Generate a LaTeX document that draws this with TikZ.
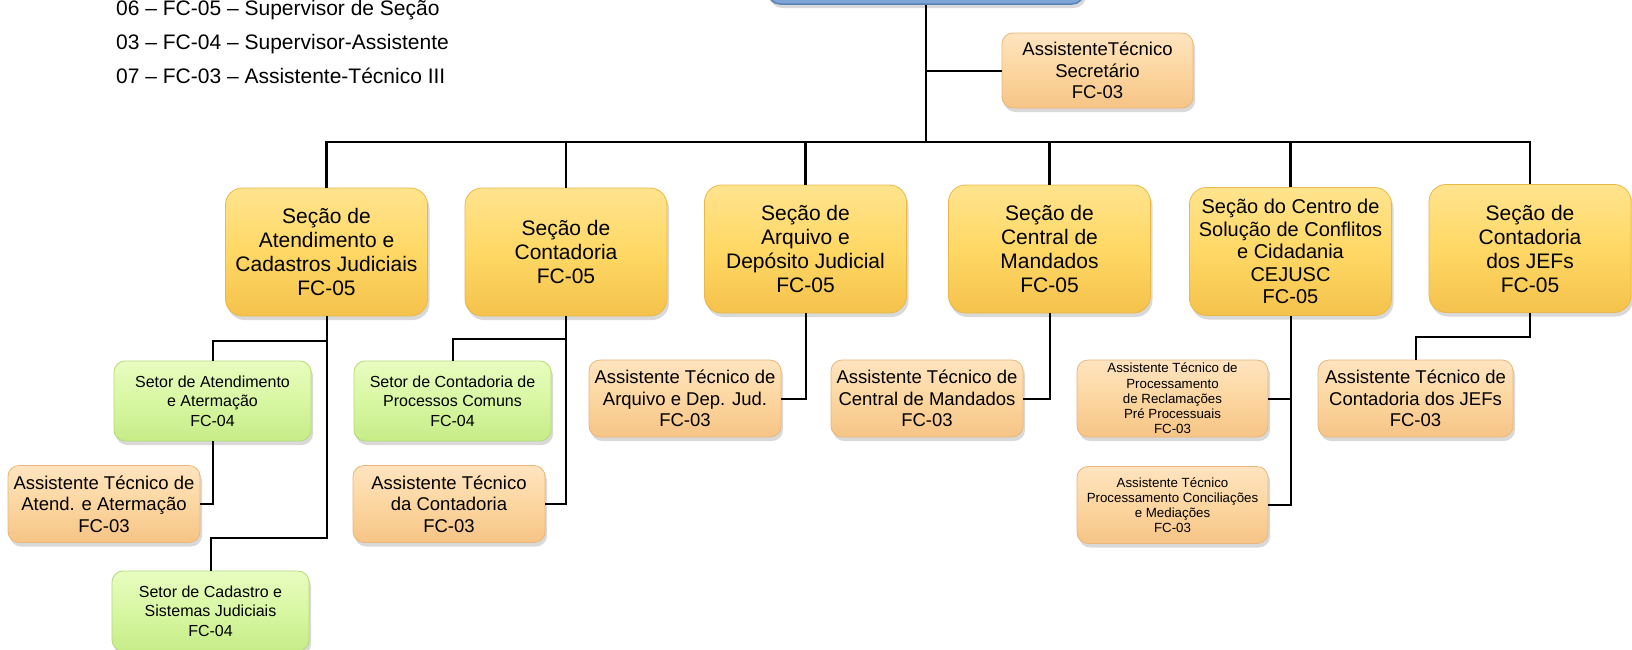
\documentclass[tikz,border=0pt]{standalone}
\usepackage{fontspec}
\setmainfont{Liberation Sans}
\usepackage{xcolor}
\usepackage{tikz}
\usetikzlibrary{shapes, shadows}
\definecolor{amarelo}{HTML}{FFD865}
\definecolor{amareloClaro}{HTML}{FFE48E}
\definecolor{amareloEscuro}{HTML}{F4C24C}
\definecolor{amareloBorda}{HTML}{E8B84A}
\definecolor{verde}{HTML}{D8F7A2}
\definecolor{verdeClaro}{HTML}{E8FCC0}
\definecolor{verdeEscuro}{HTML}{C6EC88}
\definecolor{verdeBorda}{HTML}{B5DA7A}
\definecolor{pessego}{HTML}{FCD6A0}
\definecolor{pessegoClaro}{HTML}{FFE4C0}
\definecolor{pessegoEscuro}{HTML}{F6C486}
\definecolor{pessegoBorda}{HTML}{E8B67A}
\definecolor{azul}{HTML}{7FA4D8}
\definecolor{azulBorda}{HTML}{5A80B8}
\tikzstyle{caixa} = [rectangle, rounded corners=12pt, align=center, inner sep=0pt, line width=0.8pt, drop shadow={shadow xshift=2pt, shadow yshift=-4pt, opacity=0.3}]
\tikzstyle{raiz} = [caixa, fill=azul, draw=azulBorda, line width=1.5pt, minimum width=316pt, minimum height=88pt]
\tikzstyle{secao} = [caixa, rounded corners=17pt, top color=amareloClaro, bottom color=amareloEscuro, middle color=amarelo, draw=amareloBorda, minimum width=202pt, minimum height=128pt, font=\fontsize{21}{24}\selectfont]
\tikzstyle{setor} = [caixa, rounded corners=11pt, top color=verdeClaro, bottom color=verdeEscuro, middle color=verde, draw=verdeBorda, minimum width=197pt, minimum height=80pt, font=\fontsize{16}{19.5}\selectfont]
\tikzstyle{assistente} = [caixa, rounded corners=11pt, top color=pessegoClaro, bottom color=pessegoEscuro, middle color=pessego, draw=pessegoBorda, minimum width=192pt, minimum height=77pt, font=\fontsize{18.5}{21.5}\selectfont]
\tikzstyle{miudo} = [minimum width=191pt, font=\fontsize{13.3}{15.2}\selectfont]
\tikzstyle{legenda} = [anchor=base west, inner sep=0pt, font=\fontsize{21}{24}\selectfont]
\tikzstyle{tronco} = [draw, line width=2.5pt]
\tikzstyle{conector} = [draw, line width=2pt]

\begin{document}
\begin{tikzpicture}[x=1pt, y=-1pt]
        \useasboundingbox (0,0) rectangle (1632,649);
        % legenda
        \node [legenda] at (116,15.5) (leg1) {06 – FC-05 – Supervisor de Seção};
        \node [legenda] at (116,49.5) (leg2) {03 – FC-04 – Supervisor-Assistente};
        \node [legenda] at (116,83.5) (leg3) {07 – FC-03 – Assistente-Técnico III};

        \node [raiz] at (926,-40) (raiz) {};
        \node [assistente, minimum width=191pt, minimum height=75pt] at (1097.5,70.5) (secretario)
        {AssistenteTécnico\\Secretário\\FC-03};

        % secoes
        \node [secao] at (326.5,252) (atendimento)
        {Seção de\\Atendimento e\\Cadastros Judiciais\\FC-05};
        \node [secao] at (566,252) (contadoria)
        {Seção de\\Contadoria\\FC-05};
        \node [secao] at (805.5,249) (arquivo)
        {Seção de\\Arquivo e\\Depósito Judicial\\FC-05};
        \node [secao] at (1049.5,249) (mandados)
        {Seção de\\Central de\\Mandados\\FC-05};
        \node [secao, font=\fontsize{20}{22.5}\selectfont] at (1290.5,251.5) (cejusc)
        {Seção do Centro de\\Solução de Conflitos\\e Cidadania\\CEJUSC\\FC-05};
        \node [secao] at (1530,248.5) (jefs)
        {Seção de\\Contadoria\\dos JEFs\\FC-05};

        % setores e assistentes
        \node [setor] at (212.5,401) (setAtend)
        {Setor de Atendimento\\e Atermação\\FC-04};
        \node [assistente] at (104,504) (asAtend)
        {Assistente Técnico de\\Atend. e Atermação\\FC-03};
        \node [setor] at (210.5,611) (setCadastro)
        {Setor de Cadastro e\\Sistemas Judiciais\\FC-04};
        \node [setor] at (452.5,401) (setContad)
        {Setor de Contadoria de\\Processos Comuns\\FC-04};
        \node [assistente] at (449,504) (asContad)
        {Assistente Técnico\\da Contadoria\\FC-03};
        \node [assistente] at (685,398.5) (asArquivo)
        {Assistente Técnico de\\Arquivo e Dep. Jud.\\FC-03};
        \node [assistente] at (927,398.5) (asMandados)
        {Assistente Técnico de\\Central de Mandados\\FC-03};
        \node [assistente, miudo] at (1172.5,398.5) (asReclam)
        {Assistente Técnico de\\Processamento\\de Reclamações\\Pré Processuais\\FC-03};
        \node [assistente, miudo] at (1172.5,505) (asConcil)
        {Assistente Técnico\\Processamento Conciliações\\e Mediações\\FC-03};
        \node [assistente, minimum width=195pt] at (1415.5,398.5) (asJefs)
        {Assistente Técnico de\\Contadoria dos JEFs\\FC-03};

        \coordinate (barra) at (926,142);
        \path [tronco] (raiz.south) -- (barra);
        \path [conector] (secretario.west) -- (secretario.west -| barra);
        \path [tronco] (barra) -| (atendimento.north);
        \path [tronco] (barra) -| (contadoria.north);
        \path [tronco] (barra) -| (arquivo.north);
        \path [tronco] (barra) -| (mandados.north);
        \path [tronco] (barra) -| (cejusc.north);
        \path [tronco] (barra) -| (jefs.north);

        \path [conector] (atendimento.south) -- ++(0,25) -| (setAtend.north);
        \path [conector] (atendimento.south) -- ++(0,222) -| (setCadastro.north);
        \path [conector] (setAtend.south) |- (asAtend.east);
        \path [conector] (contadoria.south) -- ++(0,23) -| (setContad.north);
        \path [conector] (contadoria.south) |- (asContad.east);
        \path [conector] (arquivo.south) |- (asArquivo.east);
        \path [conector] (mandados.south) |- (asMandados.east);
        \path [conector] (cejusc.south) |- (asReclam.east);
        \path [conector] (cejusc.south) |- (asConcil.east);
        \path [conector] (jefs.south) -- ++(0,24) -| (asJefs.north);
\end{tikzpicture}
\end{document}
